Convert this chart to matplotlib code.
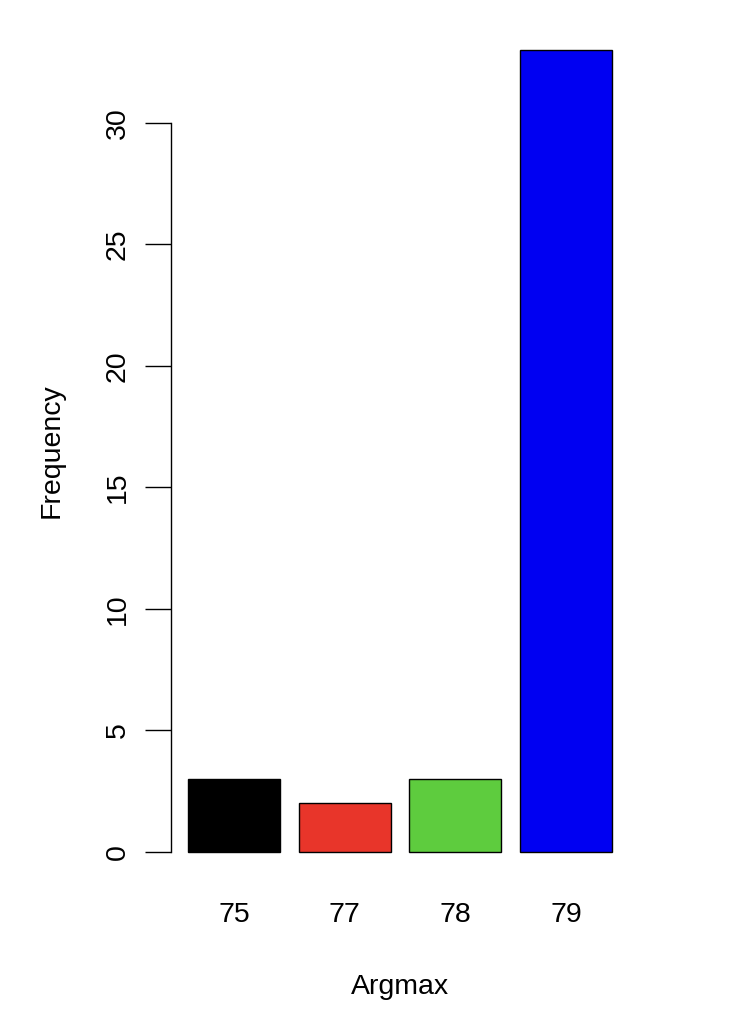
import matplotlib
matplotlib.use("Agg")
import matplotlib.pyplot as plt

categories = ["75", "77", "78", "79"]
counts = [3, 2, 3, 33]
colors = ["#000000", "#E8352A", "#5ECC3E", "#0000F2"]
yticks = [0, 5, 10, 15, 20, 25, 30]

plt.rcParams['font.family'] = ['Liberation Sans', 'DejaVu Sans']

fig = plt.figure(figsize=(7.36, 10.16), dpi=100, facecolor='w')
ax = fig.add_axes([0.2323, 0.1299, 0.6223, 0.8524])

# R style barplot: width 1, space 0.2
pos = [0.2 + 1.2 * i + 0.5 for i in range(len(counts))]
ax.bar(pos, counts, width=1.0, color=colors, edgecolor='black', linewidth=1.0)

xmin, xmax = 0.2, pos[-1] + 0.5
ext = 0.04 * (xmax - xmin)
ax.set_xlim(xmin - ext, xmax + ext)
ax.set_ylim(-0.04 * max(counts), max(counts) * 1.04)

for s in ['top', 'right', 'bottom']:
    ax.spines[s].set_visible(False)
ax.spines['left'].set_bounds(0, 30)
ax.spines['left'].set_linewidth(1.0)

ax.set_yticks(yticks)
ax.set_yticklabels([str(t) for t in yticks], rotation=90, va='center', fontsize=20.5)
ax.tick_params(axis='y', length=19, width=1.0, pad=10)

ax.set_xticks(pos)
ax.set_xticklabels(categories, fontsize=20.5)
ax.tick_params(axis='x', length=0, pad=13)

ax.set_xlabel('Argmax', fontsize=20.5, labelpad=33)
ax.set_ylabel('Frequency', fontsize=20.5, labelpad=29)

fig.savefig('out.png', dpi=100)
